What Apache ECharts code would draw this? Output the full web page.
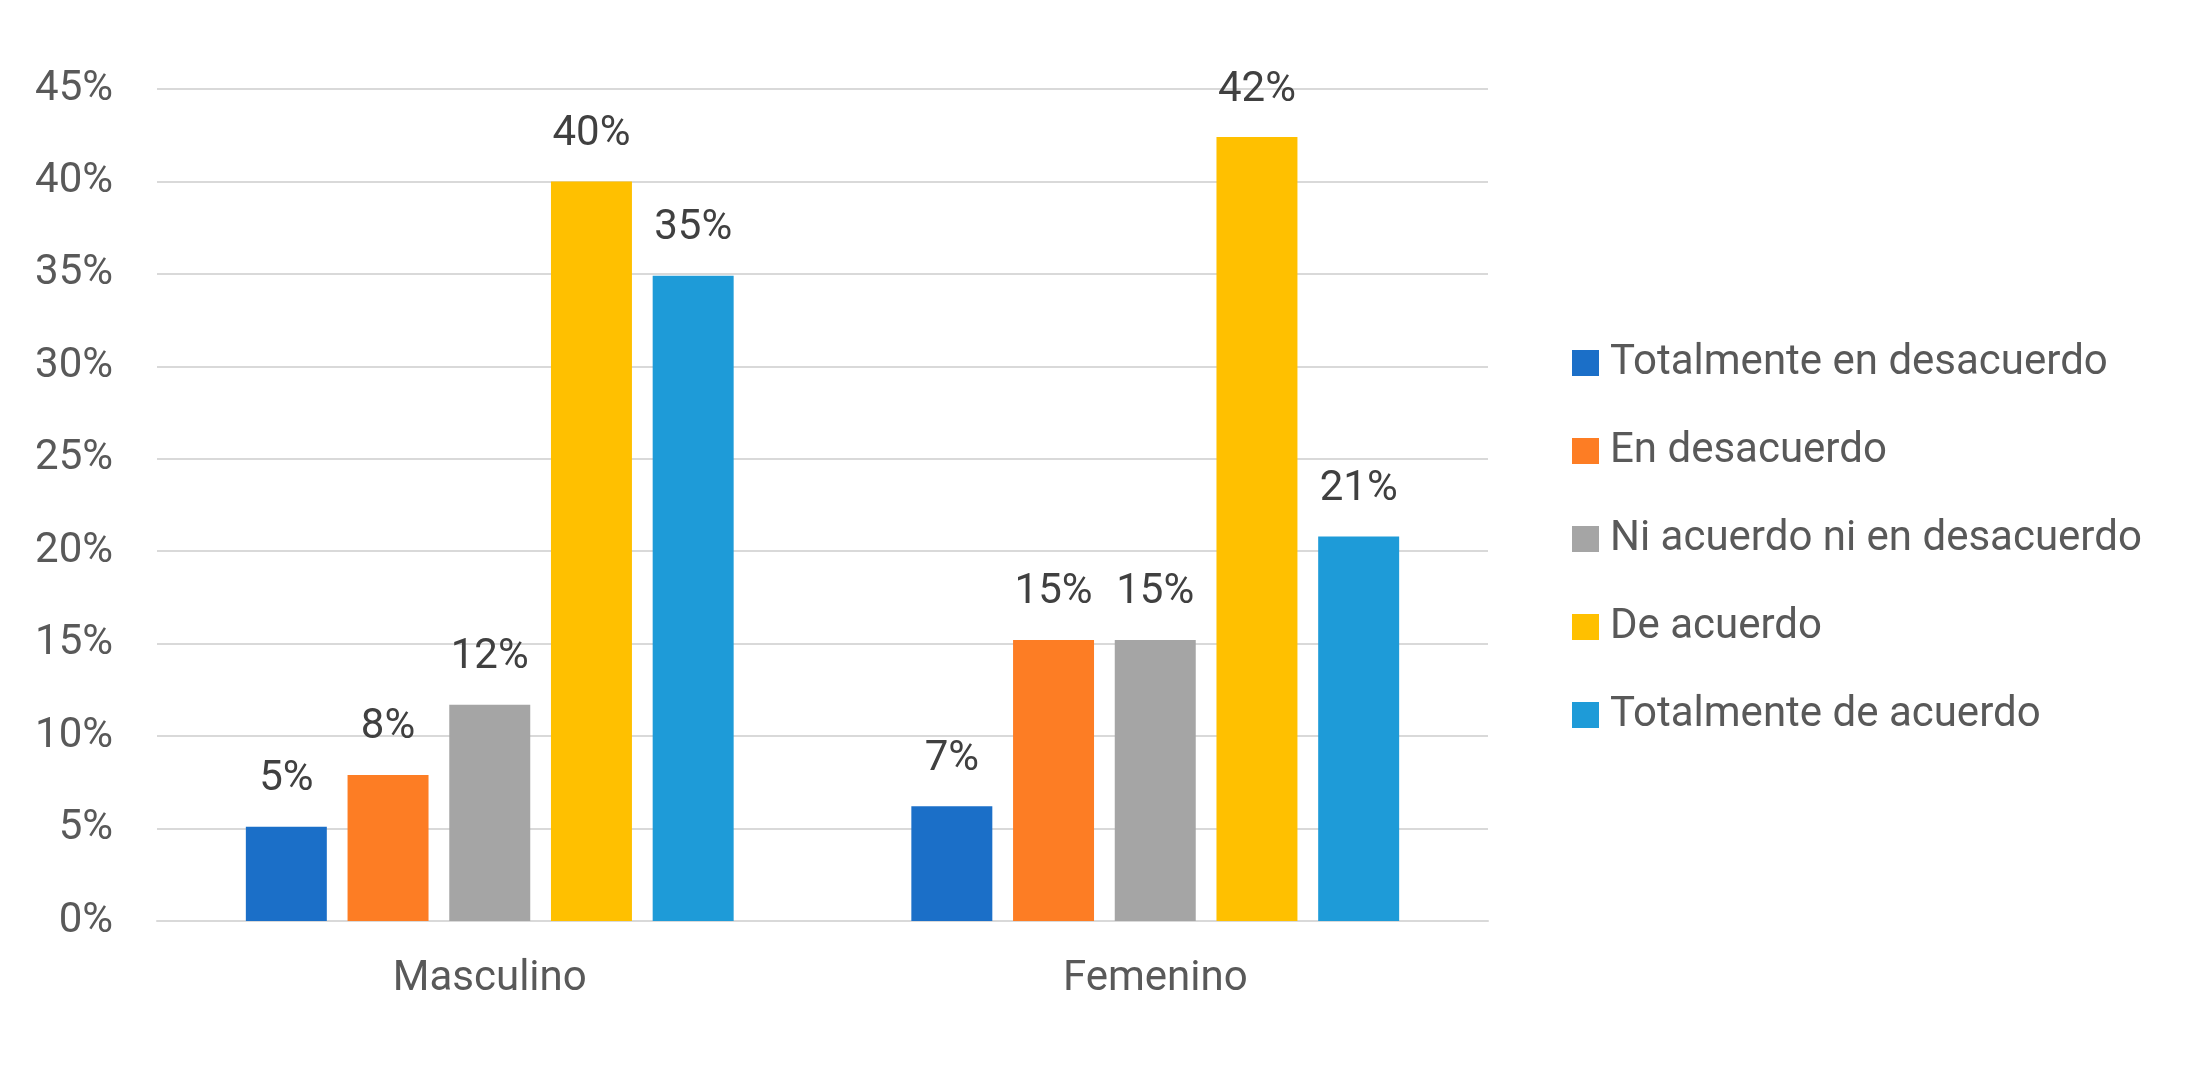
<!DOCTYPE html>
<html>
<head>
<meta charset="utf-8">
<script src="https://cdn.jsdelivr.net/npm/echarts@6/dist/echarts.min.js"></script>
<style>
html,body{margin:0;padding:0;background:#fff;}
#chart{width:2204px;height:1077px;}
</style>
</head>
<body>
<div id="chart"></div>
<script>
const categories = ['Masculino', 'Femenino'];
const seriesNames = ['Totalmente en desacuerdo', 'En desacuerdo', 'Ni acuerdo ni en desacuerdo', 'De acuerdo', 'Totalmente de acuerdo'];
const totalmenteDesacuerdo = [5.1, 6.2];
const enDesacuerdo = [7.9, 15.2];
const niAcuerdo = [11.7, 15.2];
const deAcuerdo = [40.0, 42.4];
const totalmenteAcuerdo = [34.9, 20.8];
const labelsTotDes = ['5%', '7%'];
const labelsEnDes = ['8%', '15%'];
const labelsNi = ['12%', '15%'];
const labelsDeAc = ['40%', '42%'];
const labelsTotAc = ['35%', '21%'];
const colors = ['#1B6FC8', '#FD7D24', '#A5A5A5', '#FFC000', '#1E9BD8'];

const values = [totalmenteDesacuerdo, enDesacuerdo, niAcuerdo, deAcuerdo, totalmenteAcuerdo];
const labels = [labelsTotDes, labelsEnDes, labelsNi, labelsDeAc, labelsTotAc];
const FONT = 'Roboto';

const chart = echarts.init(document.getElementById('chart'), null, {renderer: 'canvas'});
chart.setOption({
  animation: false,
  backgroundColor: '#ffffff',
  color: colors,
  grid: {left: 157, right: 716, top: 89, bottom: 156, containLabel: false},
  legend: {
    orient: 'vertical',
    left: 1567,
    top: 337,
    itemWidth: 27,
    itemHeight: 26,
    itemGap: 46,
    icon: 'rect',
    textStyle: {fontFamily: FONT, fontSize: 42, color: '#595959', padding: [0, 0, 0, 6]},
    data: seriesNames
  },
  xAxis: {
    type: 'category',
    data: categories,
    axisLine: {lineStyle: {color: '#D9D9D9', width: 2}},
    axisTick: {show: false},
    axisLabel: {fontFamily: FONT, fontSize: 42, color: '#595959', margin: 37}
  },
  yAxis: {
    type: 'value',
    min: 0,
    max: 45,
    interval: 5,
    axisLine: {show: false},
    axisTick: {show: false},
    splitLine: {lineStyle: {color: '#D9D9D9', width: 2}},
    axisLabel: {fontFamily: FONT, fontSize: 42, color: '#595959', margin: 44, formatter: '{value}%'}
  },
  series: seriesNames.map((name, i) => ({
    name: name,
    type: 'bar',
    barGap: '25.6%',
    barCategoryGap: '26.7%',
    data: values[i],
    itemStyle: {color: colors[i]},
    label: {
      show: true,
      position: 'top',
      distance: 26,
      fontFamily: FONT,
      fontSize: 42,
      color: '#404040',
      formatter: p => labels[i][p.dataIndex]
    }
  }))
});
</script>
</body>
</html>
